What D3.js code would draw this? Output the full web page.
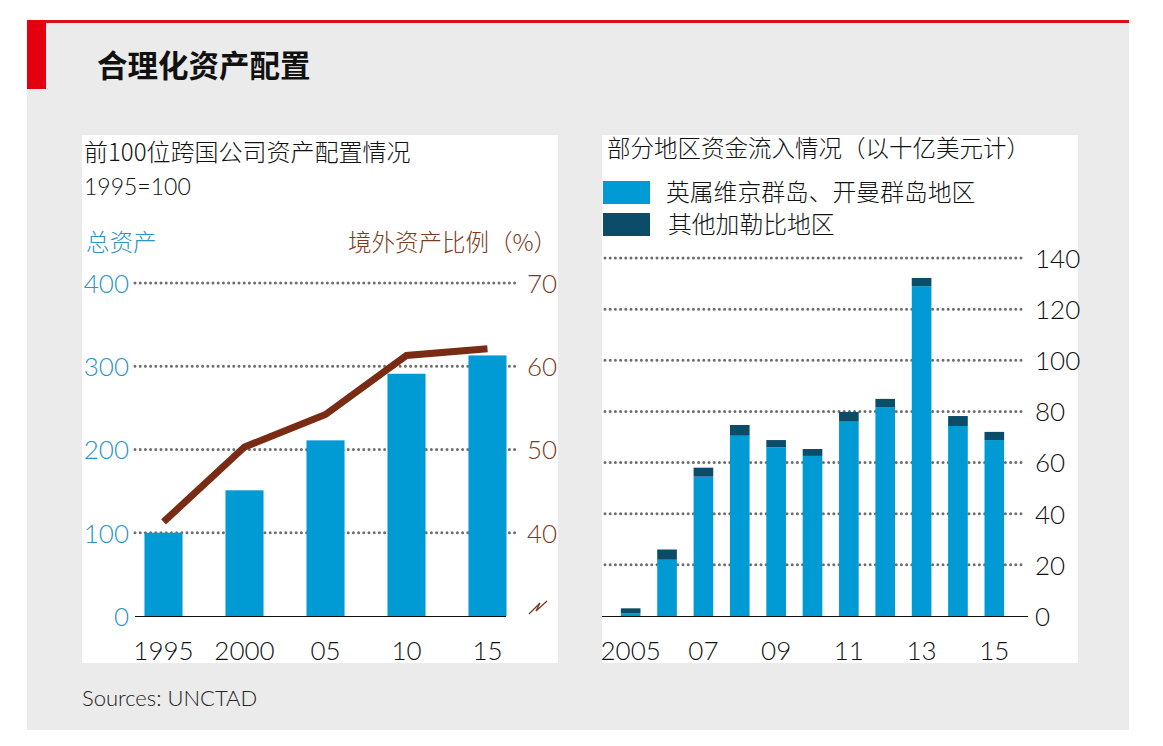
<!DOCTYPE html>
<html><head><meta charset="utf-8">
<script src="https://cdn.jsdelivr.net/npm/d3@7"></script>
<style>
html,body{margin:0;padding:0;background:#fff;}
svg{display:block;}
text{font-family:"Lato","Noto Sans CJK SC",sans-serif;}
.cjk{font-family:"Noto Sans CJK SC","Noto Sans",sans-serif;font-weight:300;}
</style></head>
<body>
<svg id="c" width="1163" height="746"></svg>
<script>
// ---- Data ----
const leftYears = ["1995","2000","05","10","15"];
const totalAssets = [100, 151, 211, 291, 313];
const foreignShare = [41.3, 50.3, 54.2, 61.3, 62.1];
const leftTicks = [0, 100, 200, 300, 400];
const rightTicksL = [40, 50, 60, 70];

const rightYears = ["2005","2006","2007","2008","2009","2010","2011","2012","2013","2014","2015"];
const rightLabels = {"2005":"2005","2007":"07","2009":"09","2011":"11","2013":"13","2015":"15"};
const bviCayman = [1, 22, 54.5, 70.5, 66, 62.6, 76, 81.7, 129, 74.3, 68.8];
const otherCarib = [2, 4, 3.5, 4.2, 2.8, 2.7, 3.8, 3.2, 3.2, 3.9, 3.2];
const rightTicks = [0, 20, 40, 60, 80, 100, 120, 140];

const BLUE = "#009bd5", DARK = "#0b4c68", BROWN = "#7a2b14", AXBLUE = "#2a94c6", AXBROWN = "#7b3a22";

const svg = d3.select("#c");
// background
svg.append("rect").attr("x",27).attr("y",20).attr("width",1102).attr("height",710).attr("fill","#ebebeb");
svg.append("rect").attr("x",27).attr("y",20).attr("width",1102).attr("height",3).attr("fill","#d7101d");
svg.append("rect").attr("x",27).attr("y",20).attr("width",19).attr("height",69).attr("fill","#e3000f");
svg.append("text").attr("class","cjk").attr("x",97).attr("y",77).attr("font-size",30.5).style("font-weight",700).attr("fill","#111").text("合理化资产配置");

// panels
svg.append("rect").attr("x",82).attr("y",135).attr("width",476).attr("height",528).attr("fill","#fff");
svg.append("rect").attr("x",602).attr("y",135).attr("width",476).attr("height",528).attr("fill","#fff");

svg.append("text").attr("x",82).attr("y",706).attr("font-size",22).attr("font-weight",300).attr("fill","#222").text("Sources: UNCTAD");

// ---- Left chart ----
const L = svg.append("g");
L.append("text").attr("class","cjk").attr("x",84).attr("y",161).attr("font-size",24).attr("fill","#111").text("前100位跨国公司资产配置情况");
L.append("text").attr("x",84).attr("y",195).attr("font-size",23).attr("font-weight",300).attr("fill","#111").text("1995=100");
L.append("text").attr("class","cjk").attr("x",86).attr("y",251).attr("font-size",23.5).attr("fill",AXBLUE).text("总资产");
L.append("text").attr("class","cjk").attr("x",557).attr("y",251).attr("text-anchor","end").attr("font-size",23.5).attr("fill",AXBROWN).text("境外资产比例（%）");

const xL = d3.scaleBand().domain(leftYears).range([123, 528]).paddingInner(0.53).paddingOuter(0.265);
const yL = d3.scaleLinear().domain([0, 400]).range([616, 283]);
const yR = d3.scaleLinear().domain([30, 70]).range([616, 283]);

// gridlines
L.append("g").selectAll("line").data(leftTicks.filter(d=>d>0)).join("line")
  .attr("x1",135).attr("x2",518).attr("y1",d=>yL(d)).attr("y2",d=>yL(d))
  .attr("stroke","#6e6e6e").attr("stroke-width",3).attr("stroke-dasharray","0 5.2").attr("stroke-linecap","round");

// bars
L.append("g").selectAll("rect").data(totalAssets).join("rect")
  .attr("x",(d,i)=>xL(leftYears[i])).attr("width",xL.bandwidth())
  .attr("y",d=>yL(d)).attr("height",d=>yL(0)-yL(d)).attr("fill",BLUE);

// baseline
L.append("line").attr("x1",135).attr("x2",506).attr("y1",616.5).attr("y2",616.5).attr("stroke","#111").attr("stroke-width",1);

// line
const line = d3.line().x((d,i)=>xL(leftYears[i])+xL.bandwidth()/2).y(d=>yR(d));
L.append("path").datum(foreignShare).attr("d",line).attr("fill","none").attr("stroke",BROWN).attr("stroke-width",7);

// left axis
const axL = L.append("g").attr("transform","translate(129,0)").call(d3.axisLeft(yL).tickValues(leftTicks).tickSize(0).tickPadding(0));
axL.select(".domain").remove();
axL.selectAll("text").attr("font-size",26).attr("font-weight",300).attr("fill",AXBLUE).attr("font-family","Lato").attr("dy","0.36em");
// right axis
const axR = L.append("g").attr("transform","translate(527,0)").call(d3.axisRight(yR).tickValues(rightTicksL).tickSize(0).tickPadding(0));
axR.select(".domain").remove();
axR.selectAll("text").attr("font-size",26).attr("font-weight",300).attr("fill",AXBROWN).attr("font-family","Lato").attr("dy","0.36em");
// axis break symbol
L.append("path").attr("d","M529,614 L540,603 L536,611 L547,601").attr("fill","none").attr("stroke",AXBROWN).attr("stroke-width",1.3);

// x axis
const axX = L.append("g").attr("transform","translate(0,640)").call(d3.axisBottom(xL).tickSize(0).tickPadding(0));
axX.select(".domain").remove();
axX.selectAll("text").attr("font-size",26).attr("font-weight",300).attr("fill","#111").attr("font-family","Lato").attr("dy","0.78em");

// ---- Right chart ----
const R = svg.append("g");
R.append("text").attr("class","cjk").attr("x",607).attr("y",157).attr("font-size",23.5).attr("fill","#111").text("部分地区资金流入情况（以十亿美元计）");
R.append("rect").attr("x",603).attr("y",181).attr("width",47).attr("height",23).attr("fill",BLUE);
R.append("rect").attr("x",603).attr("y",213).attr("width",47).attr("height",23).attr("fill",DARK);
R.append("text").attr("class","cjk").attr("x",666).attr("y",201).attr("font-size",23.8).attr("fill","#111").text("英属维京群岛、开曼群岛地区");
R.append("text").attr("class","cjk").attr("x",668).attr("y",233).attr("font-size",23.8).attr("fill","#111").text("其他加勒比地区");

const xR = d3.scaleBand().domain(rightYears).range([612.5, 1012.5]).paddingInner(0.46).paddingOuter(0.23);
const yRR = d3.scaleLinear().domain([0, 140]).range([616, 258]);

R.append("g").selectAll("line").data(rightTicks.filter(d=>d>0)).join("line")
  .attr("x1",605).attr("x2",1025).attr("y1",d=>yRR(d)).attr("y2",d=>yRR(d))
  .attr("stroke","#6e6e6e").attr("stroke-width",3).attr("stroke-dasharray","0 5.2").attr("stroke-linecap","round");

const stackData = rightYears.map((y,i)=>({year:y, bvi:bviCayman[i], other:otherCarib[i]}));
const series = d3.stack().keys(["bvi","other"])(stackData);
const colors = {bvi:BLUE, other:DARK};
R.append("g").selectAll("g").data(series).join("g").attr("fill",d=>colors[d.key])
  .selectAll("rect").data(d=>d).join("rect")
  .attr("x",d=>xR(d.data.year)).attr("width",xR.bandwidth())
  .attr("y",d=>yRR(d[1])).attr("height",d=>yRR(d[0])-yRR(d[1]));

R.append("line").attr("x1",602).attr("x2",1028).attr("y1",616.5).attr("y2",616.5).attr("stroke","#111").attr("stroke-width",1);

const axRR = R.append("g").attr("transform","translate(1035,0)").call(d3.axisRight(yRR).tickValues(rightTicks).tickSize(0).tickPadding(0));
axRR.select(".domain").remove();
axRR.selectAll("text").attr("font-size",26).attr("font-weight",300).attr("fill","#111").attr("font-family","Lato").attr("dy","0.36em");

const axXR = R.append("g").attr("transform","translate(0,640)").call(d3.axisBottom(xR).tickValues(Object.keys(rightLabels)).tickFormat(d=>rightLabels[d]).tickSize(0).tickPadding(0));
axXR.select(".domain").remove();
axXR.selectAll("text").attr("font-size",26).attr("font-weight",300).attr("fill","#111").attr("font-family","Lato").attr("dy","0.78em");
</script>
</body></html>
